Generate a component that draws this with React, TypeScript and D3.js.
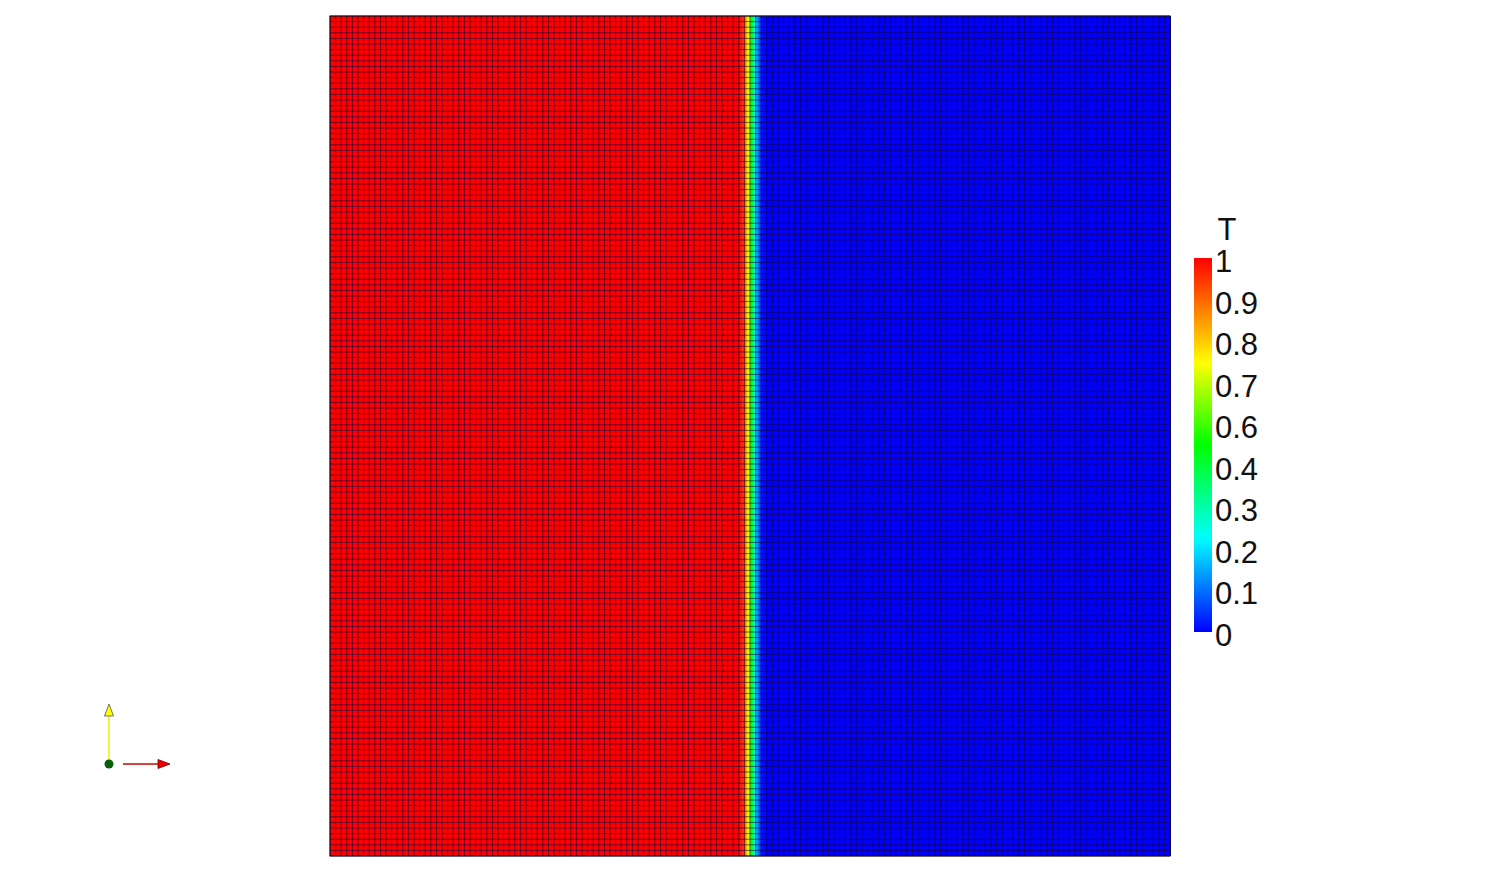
import React from "react";
import * as d3 from "d3";

// mesh: square domain, cells per side
const CELLS = 150;
// node values of T across the interface, starting at node index 73
// (nodes before are 1, nodes after are 0)
const interfaceStart = 73;
const interfaceProfile = [1, 0.92, 0.58, 0.2, 0.02, 0];

// colour map stops (value -> colour)
const cmapStops = [0, 0.25, 0.5, 0.72, 1];
const cmapColors = ["#0000ff", "#00ffff", "#00ff00", "#ffff00", "#ff0000"];

// legend ticks (evenly spaced in 1/9 steps, rounded labels)
const legendTickValues = [1, 0.889, 0.778, 0.667, 0.556, 0.444, 0.333, 0.222, 0.111, 0];
const legendTickLabels = ["1", "0.9", "0.8", "0.7", "0.6", "0.4", "0.3", "0.2", "0.1", "0"];
const legendTitle = "T";

const W = 1501;
const H = 873;
const FONT = "'Liberation Sans', Arial, sans-serif";

function nodeValue(k: number) {
  if (k < interfaceStart) return 1;
  const j = k - interfaceStart;
  if (j < interfaceProfile.length) return interfaceProfile[j];
  return 0;
}

export default function App() {
  const x = d3.scaleLinear().domain([0, CELLS]).range([330, 1170]);
  const y = d3.scaleLinear().domain([0, CELLS]).range([856, 16]);
  const cmap = d3
    .scaleLinear<string>()
    .domain(cmapStops)
    .range(cmapColors)
    .interpolate(d3.interpolateRgb)
    .clamp(true);

  const columns = d3.range(CELLS).map((i) => ({
    i,
    a: nodeValue(i),
    b: nodeValue(i + 1),
  }));

  const legendY = d3.scaleLinear().domain([0, 1]).range([632, 258]);
  const legendStops = d3.range(0, 1.0001, 0.02);
  const sub = d3.range(0, 1.0001, 0.1);

  return (
    <svg
      width={W}
      height={H}
      style={{ position: "absolute", left: 0, top: 0, display: "block", background: "#fff" }}
    >
      <defs>
        {columns
          .filter((c) => c.a !== c.b)
          .map((c) => (
            <linearGradient key={c.i} id={`col-${c.i}`} x1="0" x2="1" y1="0" y2="0">
              {sub.map((t) => (
                <stop key={t} offset={t} stopColor={cmap(c.a + (c.b - c.a) * t)} />
              ))}
            </linearGradient>
          ))}
        <linearGradient id="legend-grad" x1="0" x2="0" y1="1" y2="0">
          {legendStops.map((t) => (
            <stop key={t} offset={t} stopColor={cmap(t)} />
          ))}
        </linearGradient>
      </defs>

      {/* cell columns */}
      <g shapeRendering="crispEdges">
        {columns.map((c) => (
          <rect
            key={c.i}
            x={x(c.i)}
            y={y(CELLS)}
            width={x(c.i + 1) - x(c.i) + 0.5}
            height={y(0) - y(CELLS)}
            fill={c.a === c.b ? cmap(c.a) : `url(#col-${c.i})`}
          />
        ))}
      </g>

      {/* mesh lines */}
      <g stroke="#14003c" strokeOpacity={0.6} strokeWidth={1}>
        {d3.range(CELLS + 1).map((k) => (
          <line key={`v${k}`} x1={x(k)} x2={x(k)} y1={y(0)} y2={y(CELLS)} />
        ))}
        {d3.range(CELLS + 1).map((k) => (
          <line key={`h${k}`} x1={x(0)} x2={x(CELLS)} y1={y(k)} y2={y(k)} />
        ))}
      </g>
      <rect
        x={x(0)}
        y={y(CELLS)}
        width={x(CELLS) - x(0)}
        height={y(0) - y(CELLS)}
        fill="none"
        stroke="#111"
        strokeWidth={1}
      />

      {/* colour legend */}
      <rect
        x={1194}
        y={legendY(1)}
        width={18}
        height={legendY(0) - legendY(1)}
        fill="url(#legend-grad)"
      />
      <text
        x={1227}
        y={240}
        fontFamily={FONT}
        fontSize={31}
        textAnchor="middle"
        fill="#111"
      >
        {legendTitle}
      </text>
      {legendTickValues.map((v, i) => (
        <text
          key={i}
          x={1215}
          y={legendY(v) + 14}
          fontFamily={FONT}
          fontSize={31}
          fill="#111"
        >
          {legendTickLabels[i]}
        </text>
      ))}

      {/* orientation axes */}
      <g>
        <line x1={109} y1={764} x2={109} y2={714} stroke="#f0f000" strokeWidth={1.5} />
        <path d="M109,704 L104.5,716 L113.5,716 Z" fill="#ffff00" stroke="#555" strokeWidth={0.8} />
        <line x1={123} y1={764} x2={160} y2={764} stroke="#cc0000" strokeWidth={1.5} />
        <path d="M170,764 L158,759.5 L158,768.5 Z" fill="#ee0000" stroke="#660000" strokeWidth={0.8} />
        <circle cx={109} cy={764} r={4.5} fill="#0b5e0b" />
      </g>
    </svg>
  );
}
